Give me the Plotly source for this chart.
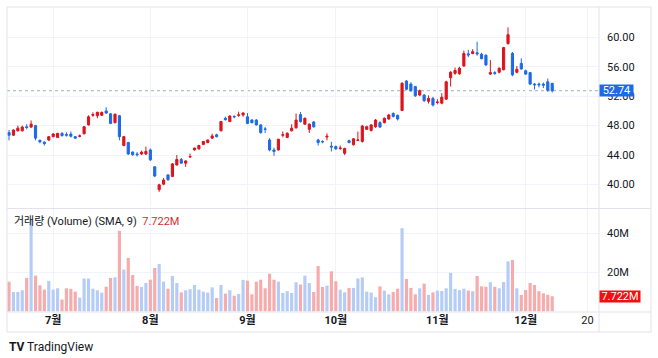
import pandas as pd
import plotly.graph_objects as go
from plotly.subplots import make_subplots

# ---------------- data ----------------
holidays = ["2024-06-19", "2024-07-04", "2024-09-02", "2024-11-28"]
dates = [d.strftime("%Y-%m-%d") for d in pd.bdate_range("2024-06-14", "2024-12-10")
         if d.strftime("%Y-%m-%d") not in holidays]

opens = [47.05, 46.7, 47.3, 47.3, 47.85, 47.8, 48.0, 46.0, 45.75, 46.05,
         46.5, 46.4, 46.95, 46.8, 46.85, 46.5, 46.55, 46.9, 48.1, 49.4,
         49.35, 49.4, 50.0, 49.6, 48.4, 49.35, 45.3, 45.7, 44.4, 44.15,
         44.15, 44.15, 44.7, 42.4, 39.3, 40.05, 41.3, 41.1, 42.65, 43.4,
         42.9, 43.75, 44.7, 44.85, 45.45, 45.7, 46.3, 46.75, 47.3, 49.0,
         48.55, 49.25, 49.4, 49.45, 49.2, 48.75, 48.75, 48.1, 47.55, 46.05,
         44.7, 44.7, 46.7, 46.4, 47.3, 47.7, 49.5, 48.2, 47.5, 48.5,
         46.05, 45.85, 46.45, 45.2, 45.15, 44.9, 44.25, 45.95, 45.4, 46.0,
         45.85, 47.5, 47.35, 47.85, 48.4, 48.4, 48.9, 49.65, 49.4, 50.05,
         54.05, 53.65, 53.3, 52.15, 52.15, 51.3, 51.7, 51.15, 51.05, 51.6,
         54.5, 55.1, 55.05, 56.1, 57.75, 57.8, 57.9, 57.7, 57.55, 55.0,
         55.2, 55.25, 55.6, 59.15, 57.8, 55.25, 56.45, 55.45, 55.2, 53.65,
         53.65, 53.65, 53.95, 53.75]
highs = [47.4, 47.5, 48.0, 48.0, 48.2, 48.7, 48.1, 46.1, 45.9, 46.6,
         47.0, 47.0, 47.1, 47.1, 47.2, 46.6, 46.8, 47.95, 49.4, 49.8,
         49.9, 49.9, 50.5, 49.7, 49.65, 49.45, 46.6, 45.8, 44.5, 44.4,
         44.6, 45.15, 44.9, 42.5, 40.1, 40.9, 41.4, 42.9, 44.0, 43.6,
         43.3, 44.2, 45.0, 45.4, 45.9, 46.1, 46.9, 46.9, 48.6, 49.2,
         49.4, 49.4, 49.9, 49.85, 49.7, 48.9, 48.9, 48.2, 47.8, 46.3,
         45.0, 46.2, 47.2, 47.1, 48.2, 49.65, 49.85, 49.1, 48.3, 48.6,
         46.2, 46.0, 46.95, 45.8, 45.3, 45.3, 45.0, 46.1, 46.3, 47.2,
         48.1, 48.0, 48.2, 48.9, 48.6, 49.1, 49.6, 49.8, 49.5, 53.9,
         54.2, 53.9, 53.4, 52.9, 52.3, 52.1, 51.9, 51.6, 52.4, 54.1,
         55.4, 55.9, 56.0, 58.2, 58.3, 58.4, 59.4, 57.9, 57.7, 56.9,
         55.4, 55.9, 58.7, 61.35, 58.0, 56.1, 57.15, 55.6, 55.3, 53.8,
         53.85, 53.85, 54.4, 53.8]
lows = [46.0, 46.6, 47.2, 47.2, 47.5, 47.7, 46.0, 45.6, 45.3, 45.9,
        46.4, 46.3, 46.5, 46.5, 46.4, 46.2, 46.4, 46.8, 48.0, 49.2,
        49.0, 49.3, 49.6, 48.2, 48.3, 46.0, 45.2, 44.0, 43.9, 43.8,
        44.0, 44.0, 43.2, 41.0, 39.0, 39.9, 40.5, 41.0, 42.6, 42.8,
        42.4, 43.6, 44.6, 44.7, 45.35, 45.6, 46.2, 46.4, 47.2, 48.7,
        48.5, 49.0, 49.2, 49.2, 48.2, 48.3, 48.0, 46.9, 47.0, 44.5,
        43.9, 44.6, 46.4, 46.3, 47.2, 47.6, 48.4, 48.1, 47.0, 47.7,
        45.3, 45.6, 46.0, 44.5, 44.7, 44.7, 44.0, 45.6, 45.3, 45.9,
        45.7, 47.4, 47.2, 47.7, 47.7, 48.3, 48.8, 49.1, 48.7, 50.0,
        52.8, 52.6, 51.9, 52.0, 51.2, 51.0, 50.6, 50.9, 50.9, 51.5,
        53.3, 54.9, 54.9, 56.0, 57.3, 57.7, 57.5, 57.0, 56.1, 54.9,
        54.9, 55.1, 55.5, 59.0, 54.7, 55.1, 55.6, 54.9, 53.5, 52.9,
        53.2, 53.1, 52.6, 52.5]
closes = [46.7, 47.4, 47.65, 47.8, 47.75, 48.2, 46.3, 45.8, 45.55, 46.5,
          46.85, 46.95, 46.65, 46.7, 46.55, 46.3, 46.6, 47.85, 49.2, 49.5,
          49.8, 49.8, 49.7, 48.3, 49.55, 46.5, 46.5, 44.15, 44.05, 44.05,
          44.4, 44.5, 43.35, 41.15, 39.95, 40.6, 40.65, 42.8, 43.4, 42.9,
          43.2, 43.8, 44.95, 45.3, 45.85, 46.05, 46.6, 46.5, 48.55, 48.8,
          49.3, 49.2, 49.45, 49.7, 48.3, 48.4, 48.1, 47.05, 47.5, 44.7,
          44.5, 46.15, 46.75, 46.95, 47.65, 48.75, 48.55, 49.0, 48.2, 47.85,
          45.7, 45.8, 46.55, 45.1, 44.85, 44.95, 44.9, 45.7, 46.2, 46.05,
          47.95, 47.85, 48.1, 48.75, 47.8, 49.0, 49.45, 49.25, 48.9, 53.75,
          52.95, 52.75, 52.05, 52.75, 51.4, 51.7, 50.8, 51.2, 51.85, 53.95,
          55.25, 55.5, 55.8, 57.8, 57.6, 58.05, 57.75, 57.1, 56.25, 55.2,
          55.1, 55.8, 58.6, 60.35, 54.9, 55.65, 55.7, 55.0, 53.65, 53.55,
          53.55, 53.5, 52.8, 52.74]
volumes_m = [15.2, 9.9, 9.9, 10.8, 17.1, 47.0, 18.3, 13.3, 11.1, 15.6,
             11.1, 11.8, 6.0, 11.8, 11.5, 10.1, 7.0, 16.8, 16.8, 11.6,
             10.8, 9.6, 12.6, 17.1, 17.4, 41.3, 21.4, 27.4, 18.6, 13.0,
             12.5, 14.5, 16.2, 22.2, 24.3, 15.2, 11.6, 18.1, 14.5, 9.7,
             10.8, 11.3, 13.5, 11.1, 10.1, 9.6, 12.3, 6.8, 13.5, 9.1,
             10.8, 8.0, 8.9, 16.1, 15.7, 8.7, 15.2, 16.2, 11.8, 19.3,
             16.2, 15.2, 9.4, 10.3, 9.4, 14.9, 13.7, 18.3, 14.5, 9.9,
             23.2, 12.5, 13.2, 20.5, 15.4, 11.1, 9.7, 12.0, 12.0, 16.8,
             17.4, 10.1, 9.6, 7.2, 12.8, 10.6, 8.7, 9.9, 11.6, 42.6,
             16.6, 12.0, 8.7, 11.8, 14.2, 8.4, 9.7, 10.6, 10.4, 11.8,
             19.7, 11.5, 10.9, 11.6, 10.6, 10.3, 18.1, 12.8, 12.6, 14.9,
             12.6, 11.8, 15.0, 25.6, 26.3, 11.8, 8.4, 10.9, 14.5, 13.5,
             10.3, 9.2, 8.5, 7.722]

tick_dates = ["2024-07-01", "2024-08-01", "2024-09-03", "2024-10-01",
              "2024-11-01", "2024-12-02", "2024-12-20"]
tick_labels = ["7월", "8월", "9월", "10월", "11월", "12월", "20"]
price_ticks = [40, 44, 48, 52, 56, 60]
vol_ticks = [20e6, 40e6]
vol_tick_labels = ["20M", "40M"]
last_price = 52.74
last_volume_label = "7.722M"

# ---------------- style ----------------
UP = "#DC141C"
DOWN = "#1E6AE6"
VOL_UP = "#B5CDF6"     # volume bar colour on up days (as in reference)
VOL_DOWN = "#F6ABAC"   # volume bar colour on down days
GRID = "#F0F3FA"
BORDER = "#E0E3EB"
TXT = "#131722"
FONT = "Roboto, 'Noto Sans CJK KR', sans-serif"

volumes = [v * 1e6 for v in volumes_m]
vol_colors = [VOL_UP if c > o else VOL_DOWN for o, c in zip(opens, closes)]

fig = make_subplots(rows=2, cols=1, shared_xaxes=True, vertical_spacing=0.0)

fig.add_trace(go.Candlestick(
    x=dates, open=opens, high=highs, low=lows, close=closes,
    increasing=dict(line=dict(color=UP, width=1), fillcolor=UP),
    decreasing=dict(line=dict(color=DOWN, width=1), fillcolor=DOWN),
    whiskerwidth=0, showlegend=False, hoverinfo="skip"), row=1, col=1)

fig.add_trace(go.Bar(
    x=dates, y=volumes, marker=dict(color=vol_colors, line=dict(width=0)),
    showlegend=False, hoverinfo="skip"), row=2, col=1)

xcommon = dict(
    type="date",
    rangebreaks=[dict(bounds=["sat", "mon"]), dict(values=holidays)],
    range=["2024-06-13 13:00", "2024-12-24 14:24"],
    tickmode="array", tickvals=tick_dates,
    showgrid=True, gridcolor=GRID, gridwidth=1,
    zeroline=False, showline=False, ticks="",
    rangeslider=dict(visible=False),
)
fig.update_xaxes(**xcommon)
fig.update_layout(
    xaxis=dict(showticklabels=False),
    xaxis2=dict(showticklabels=True,
                ticktext=[("<b>%s</b>" % t) if t.endswith("월") else t for t in tick_labels],
                tickfont=dict(size=11, color=TXT, family=FONT)),
)

fig.update_layout(
    yaxis=dict(domain=[0.34426, 1.0], range=[36.943, 64.117], side="right",
               tickmode="array", tickvals=price_ticks,
               ticktext=["%.2f" % v for v in price_ticks],
               showgrid=True, gridcolor=GRID, zeroline=False, showline=False,
               ticks="", ticklabelstandoff=7,
               tickfont=dict(size=11, color=TXT, family=FONT)),
    yaxis2=dict(domain=[0.0, 0.3377], range=[-0.36e6, 52.46e6], side="right",
                tickmode="array", tickvals=vol_ticks, ticktext=vol_tick_labels,
                showgrid=True, gridcolor=GRID, zeroline=False, showline=False,
                ticks="", ticklabelstandoff=7,
                tickfont=dict(size=11, color=TXT, family=FONT)),
    bargap=0.28,
    width=658, height=358,
    margin=dict(l=7, r=59, t=7, b=46),
    paper_bgcolor="white", plot_bgcolor="white",
    font=dict(family=FONT, color=TXT, size=11),
    hovermode=False,
    showlegend=False,
)

X1 = (651 - 7) / 592.0
YB = (312 - 332) / 305.0
shapes = [
    # current price dotted line
    dict(type="line", xref="paper", yref="y", x0=0, x1=1, y0=last_price, y1=last_price,
         line=dict(color="#9FACC4", width=1, dash="dot"), layer="between"),
    # frame
    dict(type="rect", xref="paper", yref="paper", x0=0, x1=X1, y0=YB, y1=1,
         line=dict(color=BORDER, width=1), layer="above"),
    dict(type="line", xref="paper", yref="paper", x0=1, x1=1, y0=YB, y1=1,
         line=dict(color=BORDER, width=1), layer="above"),
    dict(type="line", xref="paper", yref="paper", x0=0, x1=X1, y0=0, y1=0,
         line=dict(color=BORDER, width=1), layer="above"),
    dict(type="line", xref="paper", yref="paper", x0=0, x1=X1,
         y0=(312 - 208.5) / 305.0, y1=(312 - 208.5) / 305.0,
         line=dict(color=BORDER, width=1), layer="above"),
]
fig.update_layout(shapes=shapes)

annotations = [
    dict(xref="paper", yref="y", x=1, y=last_price, xanchor="left", yanchor="middle",
         text="%.2f" % last_price, showarrow=False, bgcolor=DOWN,
         font=dict(color="white", size=11, family=FONT), width=33, height=11,
         borderpad=0),
    dict(xref="paper", yref="y2", x=1, y=volumes[-1], xanchor="left", yanchor="middle",
         text=last_volume_label, showarrow=False, bgcolor="#F20F0F",
         font=dict(color="white", size=11, family=FONT), width=40, height=11,
         borderpad=0),
    dict(xref="paper", yref="paper", x=(12 - 7) / 592.0, y=(312 - 221.5) / 305.0,
         xanchor="left", yanchor="middle", showarrow=False,
         text="거래량 (Volume) (SMA, 9)  <span style='color:#D32F2F'>%s</span>" % last_volume_label,
         font=dict(size=11, color=TXT, family=FONT)),
    dict(xref="paper", yref="paper", x=(7 - 7) / 592.0, y=(312 - 347) / 305.0,
         xanchor="left", yanchor="middle", showarrow=False,
         text="<b>TV</b> TradingView",
         font=dict(size=12, color=TXT, family=FONT)),
]
fig.update_layout(annotations=annotations)

fig.write_html("out.html",
               config={"displayModeBar": False, "staticPlot": True},
               post_script="document.body.style.margin='0';document.body.style.padding='0';")
